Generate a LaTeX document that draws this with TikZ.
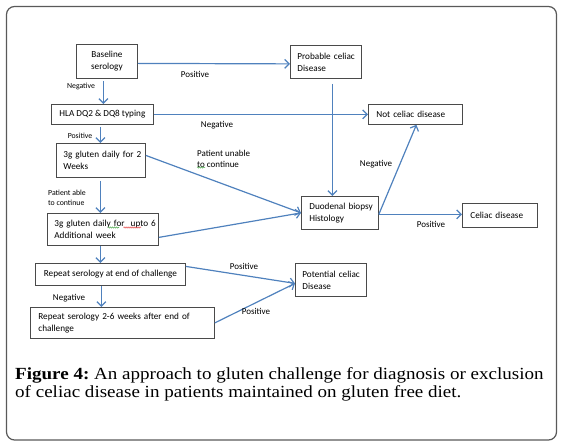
\documentclass[tikz,border=0pt]{standalone}
\usepackage{fontspec}
\setmainfont{Carlito}
\newfontfamily\capfont[FakeStretch=1.12]{Liberation Serif}
\usetikzlibrary{arrows.meta,calc,decorations.pathmorphing}
\definecolor{arrowblue}{HTML}{4F81BD}
\definecolor{boxgray}{HTML}{4A4A4A}
\definecolor{spellgreen}{HTML}{3CA03C}
\definecolor{spellred}{HTML}{E03030}
\begin{document}
\begin{tikzpicture}[x=1pt,y=-1pt,
  box/.style={draw=boxgray,line width=0.8pt,rectangle,anchor=north west,inner sep=0pt,
    font=\fontsize{9.2}{12}\selectfont,text=black},
  arr/.style={draw=arrowblue,line width=1.2pt,-{Straight Barb[length=4.5pt,width=9pt,line width=1.2pt]}},
  lab/.style={font=\fontsize{9}{11}\selectfont,inner sep=0pt},
  slab/.style={font=\fontsize{7.8}{10}\selectfont,inner sep=0pt},
  squig/.style={line width=0.5pt,decorate,decoration={snake,segment length=2pt,amplitude=0.6pt}}]
\useasboundingbox (0,0) rectangle (562,446);
\draw[draw=black!65,line width=1.2pt,rounded corners=8pt] (6.5,6.5) rectangle (556.5,440);
% boxes
\node[box,minimum width=61pt,minimum height=34pt,align=center] (base) at (76,44) {Baseline\\serology};
\node[box,minimum width=71pt,minimum height=33pt,text width=71pt,align=left] (prob) at (290,45) {\hspace*{7pt}Probable celiac\\\hspace*{7pt}Disease};
\node[box,minimum width=102pt,minimum height=20pt,align=center] (hla) at (51,104) {HLA DQ2 \& DQ8 typing};
\node[box,minimum width=94pt,minimum height=20pt,text width=94pt,align=left] (notc) at (368,104) {\hspace*{8pt}Not celiac disease};
\node[box,minimum width=89pt,minimum height=34pt,text width=89pt,align=left] (g2) at (56,143) {\hspace*{7pt}3g gluten daily for 2\\\hspace*{7pt}Weeks};
\node[box,minimum width=77pt,minimum height=33pt,text width=77pt,align=left] (duo) at (301,196) {\hspace*{8pt}Duodenal biopsy\\\hspace*{8pt}Histology};
\node[box,minimum width=75pt,minimum height=24pt,text width=75pt,align=left] (cel) at (462,203) {\hspace*{8pt}Celiac disease};
\node[box,minimum width=111pt,minimum height=32pt,text width=111pt,align=left] (g6) at (47,213) {\hspace*{7pt}3g gluten daily for\ \ upto 6\\\hspace*{7pt}Additional week};
\node[box,minimum width=150pt,minimum height=22pt,align=center] (rep1) at (35,263) {Repeat serology at end of challenge};
\node[box,minimum width=71pt,minimum height=33pt,text width=71pt,align=left] (pot) at (295,263) {\hspace*{7pt}Potential celiac\\\hspace*{7pt}Disease};
\node[box,minimum width=184pt,minimum height=31pt,text width=184pt,align=left] (rep2) at (30,307) {\hspace*{8pt}Repeat serology 2-6 weeks after end of\\\hspace*{8pt}challenge};
% connectors
\draw[arr] ([yshift=-2pt]base.east) -- ([yshift=-2pt]prob.west);
\draw[arr] ([xshift=-3.5pt,yshift=-2pt]base.south) -- ([xshift=-3.5pt]base.south |- hla.north);
\draw[arr] (hla.east) -- (notc.west);
\draw[arr] ([xshift=-2pt,yshift=-2pt]hla.south) -- ([xshift=-2pt]hla.south |- g2.north);
\draw[arr] ([xshift=6.5pt,yshift=-5pt]prob.south) -- ([xshift=6.5pt]prob.south |- duo.north);
\draw[arr] ([yshift=5pt]g2.east) -- (duo.west);
\draw[arr] ([xshift=-0.5pt,yshift=-3pt]g2.south) -- ([xshift=-0.5pt]g2.south |- g6.north);
\draw[arr] ([yshift=-8pt]g6.east) -- (duo.west);
\draw[arr] ([yshift=-1.5pt]duo.east) -- ([xshift=1pt]notc.south);
\draw[arr] ([yshift=-1.5pt]duo.east) -- ([yshift=-1.5pt]duo.east -| cel.west);
\draw[arr] ([xshift=-2.5pt]g6.south) -- ([xshift=-2.5pt]g6.south |- rep1.north);
\draw[arr] ([yshift=8pt]rep1.east) -- ([yshift=-3.5pt]pot.west);
\draw[arr] ([xshift=-9pt]rep1.south) -- ([xshift=-9pt]rep1.south |- rep2.north);
\draw[arr] (rep2.east) -- ([yshift=-3.5pt]pot.west);
% labels
\node[lab] (l1) at (195,74) {Positive};
\node[slab] (l2) at (81,86) {Negative};
\node[lab] (l3) at (217,125) {Negative};
\node[slab] (l4) at (80,136) {Positive};
\node[lab,align=left,anchor=west] (l5) at (197,159) {Patient unable\\to continue};
\node[slab,align=left,anchor=west] (l6) at (48,197.5) {Patient able\\to continue};
\node[lab] (l7) at (376,164) {Negative};
\node[lab] (l8) at (431,224) {Positive};
\node[lab] (l9) at (244,266) {Positive};
\node[lab] (l10) at (69,298) {Negative};
\node[lab] (l11) at (256,311) {Positive};
% spell-check underlines
\draw[squig,spellgreen] (197,167.5) -- (205,167.5);
\draw[squig,spellgreen] (108,227.5) -- (119,227.5);
\draw[squig,spellred] (123.5,227.5) -- (141,227.5);
% caption
\node[anchor=base west,inner sep=0pt,font=\capfont\fontsize{17}{19}\selectfont] (cap1) at (15,379) {\textbf{Figure 4:}\ An approach to gluten challenge for diagnosis or exclusion};
\node[anchor=base west,inner sep=0pt,font=\capfont\fontsize{17}{19}\selectfont] (cap2) at (15,397.5) {of celiac disease in patients maintained on gluten free diet.};
\end{tikzpicture}
\end{document}
